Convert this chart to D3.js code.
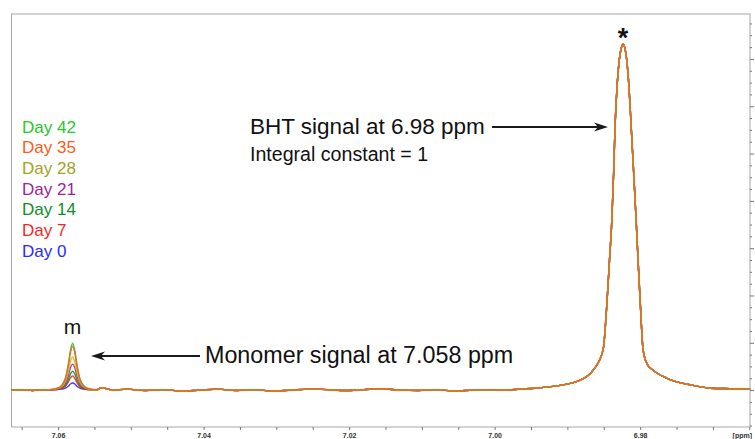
<!DOCTYPE html>
<html>
<head>
<meta charset="utf-8">
<script src="https://cdn.jsdelivr.net/npm/d3@7"></script>
<style>
  body { margin: 0; background: #fff; }
  svg { display: block; font-family: "Liberation Sans", Arial, sans-serif; }
</style>
</head>
<body>
<div id="chart"></div>
<script>
// series, in the order of the legend (bottom to top)
const days = ['Day 0', 'Day 7', 'Day 14', 'Day 21', 'Day 28', 'Day 35', 'Day 42'];

// baseline left of the monomer peak
const leftShift = [7.0664, 7.0650, 7.0635, 7.0620];
const leftLevel = [0.00, 0.01, -0.01, 0.01];

// monomer peak (7.058 ppm), one row per day
const monoShift = [7.0613, 7.0601, 7.0595, 7.0590, 7.0586, 7.0583, 7.0580,
                   7.0577, 7.0574, 7.0570, 7.0565, 7.0559, 7.0547];
const monoLevel = [
  [0.01, 0.01, 0.02, 0.04, 0.08, 0.13, 0.15, 0.13, 0.08, 0.04, 0.02, 0.01, 0.00],
  [0.00, 0.01, 0.03, 0.08, 0.17, 0.26, 0.30, 0.25, 0.16, 0.07, 0.03, 0.01, 0.01],
  [0.01, 0.02, 0.04, 0.10, 0.22, 0.34, 0.40, 0.34, 0.22, 0.10, 0.04, 0.01, 0.00],
  [0.00, 0.02, 0.06, 0.14, 0.30, 0.47, 0.55, 0.47, 0.30, 0.14, 0.05, 0.02, 0.01],
  [0.01, 0.03, 0.07, 0.18, 0.38, 0.60, 0.70, 0.59, 0.38, 0.17, 0.07, 0.02, 0.00],
  [0.00, 0.04, 0.09, 0.23, 0.51, 0.79, 0.93, 0.79, 0.51, 0.23, 0.09, 0.03, 0.01],
  [0.01, 0.04, 0.10, 0.25, 0.54, 0.84, 0.99, 0.84, 0.54, 0.24, 0.10, 0.04, 0.00]
];

// baseline between the two signals
const midShift = [7.0540, 7.0525, 7.0505, 7.0480, 7.0455, 7.0430, 7.0405, 7.0380,
                  7.0355, 7.0330, 7.0305, 7.0280, 7.0255, 7.0230, 7.0205, 7.0180,
                  7.0155, 7.0130, 7.0105, 7.0080, 7.0055, 7.0030, 7.0005];
const midLevel = [0.05, 0.00, 0.02, -0.01, 0.01, -0.02, 0.00, 0.02,
                  -0.01, 0.01, -0.02, 0.00, 0.02, 0.01, -0.01, 0.01,
                  0.03, 0.00, -0.01, 0.01, -0.02, 0.00, 0.01];

// BHT peak (6.98 ppm), integral constant = 1 so it is shared by every day
const bhtShift = [6.99924, 6.99650, 6.99375, 6.99100, 6.98825, 6.98646, 6.98509,
                  6.98454, 6.98419, 6.98389, 6.98364, 6.98344, 6.98316, 6.98289,
                  6.98261, 6.98234, 6.98206, 6.98179, 6.98151, 6.98124, 6.98089,
                  6.98055, 6.98027, 6.98000, 6.97959, 6.97904, 6.97821, 6.97629,
                  6.97271, 6.97038, 6.96763, 6.96488];
const bhtLevel = [0.00, 0.02, 0.05, 0.10, 0.21, 0.42, 0.85,
                  1.90, 2.80, 3.59, 4.60, 5.60, 6.45, 6.95,
                  7.22, 7.31, 7.20, 6.90, 6.35, 5.60, 4.60,
                  3.59, 2.70, 1.90, 0.85, 0.55, 0.42, 0.25,
                  0.10, 0.04, 0.03, 0.02];

const ppmLabels = [7.06, 7.04, 7.02, 7.00, 6.98];

// styles
const dayColor = {
  'Day 0': '#2b2bff', 'Day 7': '#ff1f1f', 'Day 14': '#0f8f1f', 'Day 21': '#a0239e',
  'Day 28': '#c4be1c', 'Day 35': '#ff5a1e', 'Day 42': '#27c82a'
};
const legendColor = Object.assign({}, dayColor, { 'Day 28': '#a3a31f' });
const drawOrder = ['Day 0', 'Day 7', 'Day 14', 'Day 21', 'Day 42', 'Day 28', 'Day 35'];

const width = 755, height = 439;
const frame = { left: 11.5, top: 14, right: 750, bottom: 427 };

const svg = d3.select('#chart')
  .append('svg')
  .attr('width', width)
  .attr('height', height);

const x = d3.scaleLinear().domain([7.0664, 6.9649]).range([frame.left, frame.right]);
const y = d3.scaleLinear().domain([-0.78, 7.95]).range([frame.bottom, frame.top]);

// frame
svg.append('rect')
  .attr('x', frame.left).attr('y', frame.top)
  .attr('width', frame.right - frame.left)
  .attr('height', frame.bottom - frame.top)
  .attr('fill', 'none')
  .attr('stroke', '#a8a8a8')
  .attr('stroke-width', 1);

// bottom axis: ticks every 0.005 ppm, labels every 0.02
const minorPpm = d3.range(0, 21).map(i => +(7.065 - i * 0.005).toFixed(3));
const xAxis = svg.append('g')
  .attr('transform', `translate(0,${frame.bottom})`)
  .call(d3.axisBottom(x)
    .tickValues(minorPpm)
    .tickSize(3)
    .tickPadding(3)
    .tickFormat(d => ppmLabels.some(v => Math.abs(v - d) < 1e-6) ? d3.format('.2f')(d) : ''));
xAxis.select('.domain').remove();
xAxis.selectAll('.tick line').attr('stroke', '#777');
xAxis.selectAll('.tick text')
  .attr('fill', '#333')
  .style('font-size', '7px')
  .style('font-weight', 'bold');

svg.append('text')
  .attr('x', 752).attr('y', 437.5)
  .attr('text-anchor', 'end')
  .attr('fill', '#333')
  .style('font-size', '7px')
  .style('font-weight', 'bold')
  .text('[ppm]');

// right intensity axis, ticks only
const yAxis = svg.append('g')
  .attr('transform', `translate(${frame.right},0)`)
  .call(d3.axisRight(y).tickValues(d3.range(-0.75, 8, 0.25)).tickSize(2).tickFormat(''));
yAxis.select('.domain').remove();
yAxis.selectAll('.tick line')
  .attr('stroke', '#777')
  .attr('x2', d => Number.isInteger(d) ? 4 : 2);

// spectra
const spectrum = i => [
  ...leftShift.map((p, k) => [p, leftLevel[k]]),
  ...monoShift.map((p, k) => [p, monoLevel[i][k]]),
  ...midShift.map((p, k) => [p, midLevel[k]]),
  ...bhtShift.map((p, k) => [p, bhtLevel[k]])
];

const line = d3.line()
  .x(d => x(d[0]))
  .y(d => y(d[1]))
  .curve(d3.curveMonotoneX);

svg.append('g')
  .selectAll('path')
  .data(drawOrder)
  .join('path')
  .attr('d', day => line(spectrum(days.indexOf(day))))
  .attr('fill', 'none')
  .attr('stroke', day => dayColor[day])
  .attr('stroke-width', 1.4)
  .attr('stroke-opacity', 0.9);

// legend
svg.append('g')
  .selectAll('text')
  .data(days.slice().reverse())
  .join('text')
  .attr('x', 22)
  .attr('y', (d, i) => 132.5 + i * 20.7)
  .attr('fill', d => legendColor[d])
  .style('font-size', '17px')
  .text(d => d);

// annotations
const arrow = (x1, x2, yy) => {
  const dir = Math.sign(x2 - x1);
  svg.append('line')
    .attr('x1', x1).attr('y1', yy)
    .attr('x2', x2 - dir * 10).attr('y2', yy)
    .attr('stroke', '#1a1a1a')
    .attr('stroke-width', 2);
  svg.append('path')
    .attr('d', `M${x2},${yy}L${x2 - dir * 14},${yy - 4.5}L${x2 - dir * 10},${yy}L${x2 - dir * 14},${yy + 4.5}Z`)
    .attr('fill', '#1a1a1a');
};

const label = (tx, ty, size, str, anchor, weight) => svg.append('text')
  .attr('x', tx).attr('y', ty)
  .attr('text-anchor', anchor || 'start')
  .attr('fill', '#111')
  .style('font-size', `${size}px`)
  .style('font-weight', weight || 'normal')
  .text(str);

label(250, 134, 22.5, 'BHT signal at 6.98 ppm');
label(250, 161, 19.6, 'Integral constant = 1');
arrow(492, 608, 127);

label(205, 363, 23.3, 'Monomer signal at 7.058 ppm');
arrow(200, 91, 356);

label(x(6.98234), 47, 27, '*', 'middle', 'bold');
label(x(7.0580), 334, 21, 'm', 'middle');
</script>
</body>
</html>
